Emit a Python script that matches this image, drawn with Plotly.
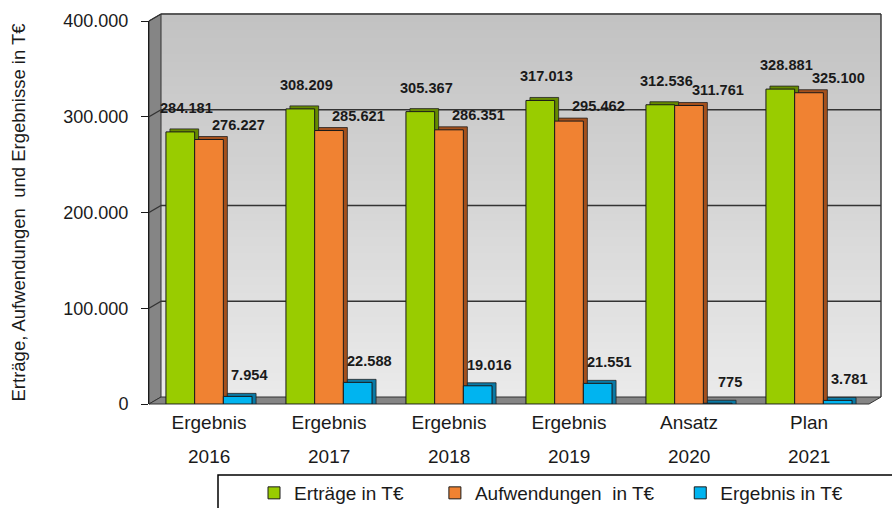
import plotly.graph_objects as go

# ---------------- data ----------------
kinds = ["Ergebnis", "Ergebnis", "Ergebnis", "Ergebnis", "Ansatz", "Plan"]
years = ["2016", "2017", "2018", "2019", "2020", "2021"]
ertraege = [284181, 308209, 305367, 317013, 312536, 328881]
aufwendungen = [276227, 285621, 286351, 295462, 311761, 325100]
ergebnis = [7954, 22588, 19016, 21551, 775, 3781]
series_names = ["Erträge in T€", "Aufwendungen  in T€", "Ergebnis in T€"]
y_ticks = [0, 100000, 200000, 300000, 400000]
y_max = 400000
y_title = "Erträge, Aufwendungen  und Ergebnisse in T€"

categories = [f"{k} {y}" for k, y in zip(kinds, years)]

# ---------------- style ----------------
W, H = 892, 508
ML, MR, MT, MB = 149, 23, 21, 104
PW, PH = W - ML - MR, H - MT - MB
DX, DY = 12, 7                      # 3D depth of walls (px)
dxp, dyp = DX / PW, DY / PH
FONT = "Arial, 'Liberation Sans', sans-serif"
NB = "\u00a0"
legend_pad = [5, 4, 0]              # invisible padding to space legend entries

front = ["#99cc00", "#f08232", "#00b4f0"]
side = ["#668a00", "#a4501c", "#0a7aa6"]
series_vals = [ertraege, aufwendungen, ergebnis]

cat_px = PW / len(categories)
bar_w = 28.7 / cat_px
offsets = [-1.5 * bar_w, -0.5 * bar_w, 0.5 * bar_w]
side_u = 4 / cat_px
top_d = 3 * y_max / PH

fig = go.Figure()

# depth (side/top faces) behind
for vals, off, sc in zip(series_vals, offsets, side):
    fig.add_trace(go.Bar(
        x=categories, y=[v + top_d for v in vals], offset=off + side_u, width=bar_w,
        marker=dict(color=sc, line=dict(color="#222222", width=0.8)),
        showlegend=False, hoverinfo="skip"))

# front faces
for vals, off, fc, name, pad in zip(series_vals, offsets, front, series_names, legend_pad):
    fig.add_trace(go.Bar(
        x=categories, y=vals, offset=off, width=bar_w, name=name + NB * pad,
        marker=dict(color=fc, line=dict(color="#1a1a1a", width=1))))

# ---------------- walls / grid shapes ----------------
shapes = []
N = 48
c0, c1 = (0xc2, 0xc2, 0xc2), (0xea, 0xea, 0xea)
for i in range(N):
    t = i / (N - 1)
    col = tuple(round(c1[k] + (c0[k] - c1[k]) * t) for k in range(3))
    shapes.append(dict(type="rect", xref="paper", yref="paper", layer="below",
                       x0=dxp, x1=1 + dxp, y0=dyp + i / N, y1=dyp + (i + 1) / N + 0.002,
                       fillcolor="rgb(%d,%d,%d)" % col, line=dict(width=0)))
# left wall
shapes.append(dict(type="path", xref="paper", yref="paper", layer="below",
                   path=f"M 0 0 L 0 1 L {dxp} {1+dyp} L {dxp} {dyp} Z",
                   fillcolor="#858585", line=dict(color="#333333", width=1)))
# floor
shapes.append(dict(type="path", xref="paper", yref="paper", layer="below",
                   path=f"M 0 0 L 1 0 L {1+dxp} {dyp} L {dxp} {dyp} Z",
                   fillcolor="#858585", line=dict(color="#333333", width=1)))
# gridlines on back wall + slant on left wall
for v in y_ticks[1:]:
    yp = v / y_max
    shapes.append(dict(type="line", xref="paper", yref="paper", layer="below",
                       x0=dxp, x1=1 + dxp, y0=yp + dyp, y1=yp + dyp,
                       line=dict(color="#333333", width=1.4)))
    shapes.append(dict(type="line", xref="paper", yref="paper", layer="below",
                       x0=0, x1=dxp, y0=yp, y1=yp + dyp,
                       line=dict(color="#333333", width=1.4)))
# back wall right edge
shapes.append(dict(type="line", xref="paper", yref="paper", layer="below",
                   x0=1 + dxp, x1=1 + dxp, y0=dyp, y1=1 + dyp,
                   line=dict(color="#333333", width=1.4)))
# legend frame
shapes.append(dict(type="rect", xref="paper", yref="paper", layer="above",
                   x0=(218 - ML) / PW, x1=(W + 10 - ML) / PW,
                   y0=-(H + 10 - MT - PH) / PH, y1=-(475 - (MT + PH)) / PH,
                   fillcolor="rgba(0,0,0,0)", line=dict(color="#000000", width=1.5)))

# ---------------- annotations ----------------
annotations = []
lab_dx = [6, 29, 12]
lab_dy = [24, 15, 21]
for vals, off, dx, dy in zip(series_vals, offsets, lab_dx, lab_dy):
    cshift = (off + bar_w / 2) * cat_px
    for c, v in zip(categories, vals):
        annotations.append(dict(
            x=c, y=v, xref="x", yref="y", xshift=cshift + dx, yshift=dy,
            text="<b>" + f"{v:,}".replace(",", ".") + "</b>", showarrow=False,
            xanchor="center", yanchor="middle",
            font=dict(family=FONT, size=14.6, color="#1a1a1a")))
for c, yr in zip(categories, years):
    annotations.append(dict(
        x=c, y=0, xref="x", yref="paper", yshift=-52, text=yr, showarrow=False,
        xanchor="center", yanchor="middle",
        font=dict(family=FONT, size=19, color="#1a1a1a")))
annotations.append(dict(
    x=(18 - ML) / PW, y=0.5, xref="paper", yref="paper", text=y_title,
    textangle=-90, showarrow=False, xanchor="center", yanchor="middle",
    font=dict(family=FONT, size=18.5, color="#1a1a1a")))

fig.update_layout(
    width=W, height=H,
    margin=dict(l=ML, r=MR, t=MT, b=MB, autoexpand=False),
    paper_bgcolor="white", plot_bgcolor="white",
    barmode="overlay", hovermode=False,
    separators=",.",
    font=dict(family=FONT, size=18, color="#1a1a1a"),
    shapes=shapes, annotations=annotations,
    showlegend=True,
    legend=dict(orientation="h", xref="container", yref="container",
                x=254 / W, y=1 - 493 / H, xanchor="left", yanchor="middle",
                font=dict(family=FONT, size=19, color="#1a1a1a"),
                bgcolor="rgba(0,0,0,0)", borderwidth=0, traceorder="normal"),
    xaxis=dict(categoryorder="array", categoryarray=categories,
               tickvals=categories, ticktext=kinds, showgrid=False,
               showline=False, ticks="", zeroline=False, ticklabelstandoff=5,
               tickfont=dict(size=19), range=[-0.5, len(categories) - 0.5]),
    yaxis=dict(range=[0, y_max], tickvals=y_ticks, tickformat=",.0f",
               showgrid=False, zeroline=False, showline=True,
               linecolor="#1a1a1a", linewidth=1,
               ticks="outside", ticklen=7, tickcolor="#1a1a1a",
               ticklabelstandoff=9, tickfont=dict(size=18)),
)

fig.write_html("out.html", config={"displayModeBar": False},
               post_script="document.body.style.margin='0';document.body.style.padding='0';")
